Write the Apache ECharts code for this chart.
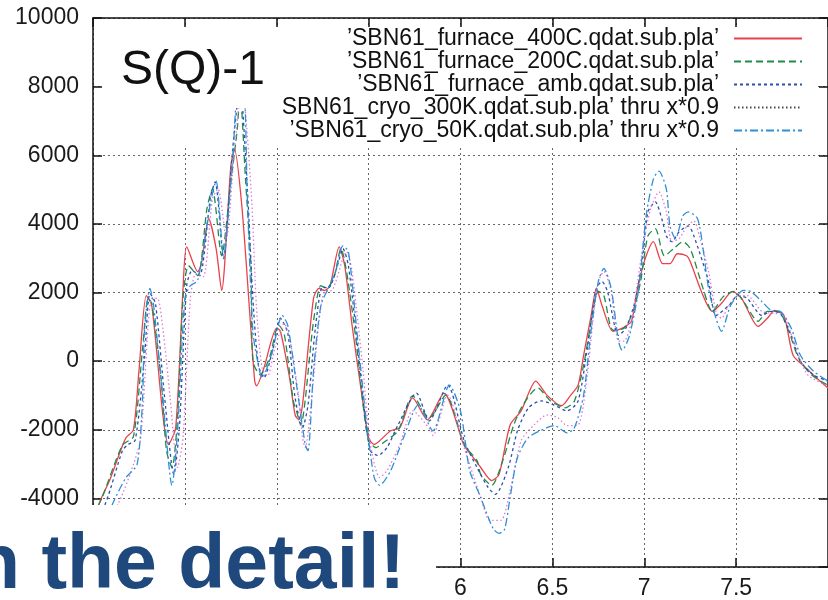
<!DOCTYPE html>
<html>
<head>
<meta charset="utf-8">
<script src="https://cdn.jsdelivr.net/npm/echarts@6/dist/echarts.min.js"></script>
<style>
  html, body { margin: 0; padding: 0; background: #ffffff; }
  #chart { width: 828px; height: 600px; }
</style>
</head>
<body>
<div id="chart"></div>
<script>
// ---- data ----
const seriesNames = [
  "’SBN61_furnace_400C.qdat.sub.pla’",
  "’SBN61_furnace_200C.qdat.sub.pla’",
  "’SBN61_furnace_amb.qdat.sub.pla’",
  "’SBN61_cryo_300K.qdat.sub.pla’ thru x*0.9",
  "’SBN61_cryo_50K.qdat.sub.pla’ thru x*0.9"
];
const yTicks = [-6000, -4000, -2000, 0, 2000, 4000, 6000, 8000, 10000];
const xTicks = [4, 4.5, 5, 5.5, 6, 6.5, 7, 7.5, 8];
const plotLabel = "S(Q)-1";
const slideText = "n the detail!";

const s400C = [[4.00,-4700],[4.04,-4060],[4.09,-3480],[4.15,-2610],[4.18,-2230],[4.22,-2000],[4.25,-300],[4.29,1910],[4.32,1620],[4.38,-1560],[4.41,-2430],[4.45,-1940],[4.49,2120],[4.51,3330],[4.57,2610],[4.59,2840],[4.63,4150],[4.67,3280],[4.70,2060],[4.75,5680],[4.77,6170],[4.81,4520],[4.86,870],[4.88,-580],[4.89,-720],[4.93,-200],[5.00,960],[5.02,870],[5.07,-490],[5.10,-1570],[5.12,-1710],[5.14,-1280],[5.20,1830],[5.23,2120],[5.26,2060],[5.29,2200],[5.34,3330],[5.37,2780],[5.41,1040],[5.46,-870],[5.50,-2230],[5.53,-2430],[5.56,-2320],[5.62,-2030],[5.67,-1940],[5.74,-1070],[5.82,-1710],[5.91,-930],[6.02,-2460],[6.07,-2810],[6.11,-3100],[6.17,-3480],[6.21,-3300],[6.27,-1860],[6.33,-1450],[6.41,-580],[6.47,-990],[6.55,-1300],[6.60,-990],[6.64,-700],[6.67,170],[6.71,1300],[6.74,2120],[6.77,1620],[6.83,870],[6.88,960],[6.93,1160],[6.96,2030],[7.00,2900],[7.05,3480],[7.10,2840],[7.14,2840],[7.18,3130],[7.23,3070],[7.25,2900],[7.32,1910],[7.37,1450],[7.42,1680],[7.48,2030],[7.53,1830],[7.62,1010],[7.67,1250],[7.71,1480],[7.76,1330],[7.81,170],[7.87,-150],[7.95,-550],[8.00,-780]];
const s200C = [[4.00,-4500],[4.05,-3970],[4.16,-2450],[4.22,-2200],[4.27,380],[4.30,1830],[4.32,1680],[4.37,-490],[4.40,-2610],[4.43,-3100],[4.46,-1650],[4.49,1830],[4.52,2780],[4.57,2490],[4.62,4440],[4.65,5020],[4.70,3070],[4.75,5220],[4.785,6750],[4.80,7800],[4.83,5300],[4.86,2700],[4.87,0],[4.91,-400],[4.96,90],[5.01,1040],[5.04,810],[5.09,-1160],[5.11,-1500],[5.13,-1860],[5.20,1160],[5.24,2200],[5.27,2120],[5.31,2410],[5.35,3280],[5.38,2610],[5.43,670],[5.47,-1280],[5.50,-2320],[5.54,-2520],[5.58,-2380],[5.66,-2030],[5.74,-1010],[5.83,-1650],[5.92,-990],[6.02,-2430],[6.09,-2900],[6.11,-3300],[6.17,-3620],[6.23,-2900],[6.29,-1860],[6.34,-1280],[6.42,-780],[6.49,-1160],[6.57,-1360],[6.62,-1160],[6.67,-120],[6.73,1740],[6.75,2030],[6.78,1910],[6.83,900],[6.89,960],[6.94,1450],[6.98,2320],[7.02,3650],[7.06,3860],[7.11,3070],[7.16,3280],[7.21,3480],[7.25,3280],[7.32,2120],[7.37,1450],[7.43,1880],[7.49,2030],[7.54,1740],[7.62,1160],[7.67,1450],[7.73,1450],[7.78,960],[7.84,90],[7.91,-400],[8.00,-700]];
const sAmb = [[4.00,-4800],[4.07,-4120],[4.16,-2610],[4.19,-2430],[4.23,-2300],[4.28,90],[4.31,1970],[4.34,1680],[4.39,-1070],[4.44,-3300],[4.47,-1940],[4.51,2200],[4.54,2640],[4.58,2490],[4.64,4810],[4.665,5220],[4.71,2990],[4.76,6170],[4.80,8000],[4.84,5020],[4.87,1830],[4.90,-120],[4.93,-490],[4.98,380],[5.02,1250],[5.06,810],[5.10,-1070],[5.14,-1940],[5.17,-1280],[5.21,960],[5.25,2170],[5.28,2120],[5.33,2780],[5.36,3280],[5.39,2780],[5.44,460],[5.48,-1570],[5.51,-2610],[5.55,-2750],[5.60,-2520],[5.66,-1860],[5.76,-930],[5.83,-1740],[5.93,-700],[6.02,-2320],[6.09,-3100],[6.15,-3680],[6.19,-3880],[6.26,-3100],[6.31,-2030],[6.37,-1360],[6.44,-1160],[6.51,-1280],[6.58,-1450],[6.64,-1160],[6.69,380],[6.74,2120],[6.77,2320],[6.80,2030],[6.86,750],[6.90,960],[6.95,1740],[6.99,2990],[7.02,4350],[7.06,4640],[7.10,4060],[7.12,3650],[7.15,3480],[7.19,3770],[7.24,3940],[7.27,3650],[7.35,2320],[7.39,1330],[7.46,1620],[7.51,1910],[7.56,1830],[7.64,1330],[7.69,1450],[7.74,1390],[7.80,750],[7.85,0],[7.92,-400],[8.00,-580]];
const s300K = [[4.00,-5300],[4.14,-4120],[4.22,-3010],[4.26,-2230],[4.32,1830],[4.35,1830],[4.38,960],[4.42,-1070],[4.46,-3100],[4.49,-2230],[4.53,1830],[4.56,2550],[4.60,2460],[4.65,4730],[4.68,5020],[4.725,3570],[4.77,6170],[4.81,8000],[4.86,5020],[4.89,1540],[4.92,-200],[4.95,-430],[4.99,380],[5.04,1100],[5.07,670],[5.12,-1070],[5.14,-2230],[5.155,-2520],[5.19,-1070],[5.23,1160],[5.26,2030],[5.30,2060],[5.36,2990],[5.38,3190],[5.41,2610],[5.47,-290],[5.51,-2430],[5.56,-3390],[5.60,-3190],[5.67,-2430],[5.74,-1450],[5.84,-2030],[5.85,-2170],[5.93,-990],[6.02,-2520],[6.11,-3970],[6.16,-4640],[6.22,-4640],[6.27,-3770],[6.33,-2320],[6.40,-1860],[6.47,-1570],[6.53,-1650],[6.58,-1880],[6.64,-1860],[6.69,-400],[6.72,1160],[6.75,2320],[6.78,2610],[6.82,2030],[6.86,580],[6.89,580],[6.93,1160],[6.98,2900],[7.03,4350],[7.08,4930],[7.12,4350],[7.15,3480],[7.19,3570],[7.23,3910],[7.27,4090],[7.30,3650],[7.35,2610],[7.39,1450],[7.42,1250],[7.46,1620],[7.51,1910],[7.56,1910],[7.64,1450],[7.71,1390],[7.76,1330],[7.82,460],[7.89,-400],[8.00,-720]];
const s50K = [[4.00,-5500],[4.11,-4120],[4.18,-3390],[4.24,-3010],[4.27,-1070],[4.28,870],[4.31,2120],[4.33,1620],[4.38,-1070],[4.43,-3620],[4.46,-2030],[4.50,1830],[4.53,2200],[4.57,2350],[4.64,4640],[4.67,5250],[4.71,3070],[4.76,5890],[4.79,7900],[4.82,7900],[4.84,4730],[4.87,870],[4.90,-120],[4.92,-490],[4.97,170],[5.03,1330],[5.06,1040],[5.11,-780],[5.155,-2430],[5.17,-2610],[5.20,-290],[5.24,1620],[5.28,2120],[5.32,2610],[5.36,3360],[5.39,3190],[5.44,670],[5.49,-1860],[5.53,-3390],[5.56,-3620],[5.62,-3190],[5.69,-2230],[5.77,-1280],[5.85,-2030],[5.94,-700],[6.00,-1450],[6.05,-3190],[6.11,-3970],[6.14,-4400],[6.18,-4900],[6.21,-5020],[6.24,-4900],[6.27,-3970],[6.31,-2810],[6.37,-2230],[6.47,-1940],[6.51,-1880],[6.58,-2090],[6.62,-1940],[6.67,-990],[6.71,870],[6.75,2320],[6.78,2700],[6.82,2120],[6.86,580],[6.88,320],[6.92,750],[6.97,2120],[7.01,4230],[7.05,5310],[7.08,5540],[7.12,5020],[7.14,3940],[7.17,3570],[7.21,4230],[7.24,4350],[7.29,4150],[7.32,3280],[7.35,2120],[7.39,1250],[7.42,870],[7.47,1620],[7.54,2060],[7.58,2030],[7.64,1740],[7.69,1480],[7.74,1450],[7.80,960],[7.85,170],[7.92,-290],[8.00,-580]];

const seriesData = [s400C, s200C, sAmb, s300K, s50K];
const seriesColors = ['#e8424a', '#1f8c4c', '#2b4fae', '#e07ad2', '#2e8fd6'];
const seriesDash = ['solid', [7, 4], [3, 3], [1.5, 2.5], [8, 3, 2, 3]];

// ---- chart ----
const chart = echarts.init(document.getElementById('chart'), null, { renderer: 'canvas' });
const FONT = 'Liberation Sans';
const axisCommon = {
  type: 'value',
  axisLine: { show: true, onZero: false, lineStyle: { color: '#111', width: 1.5 } },
  axisTick: { show: true, inside: true, length: 9, lineStyle: { color: '#111', width: 1.5 } }
};

const option = {
  backgroundColor: '#ffffff',
  animation: false,
  title: {
    text: plotLabel, left: 121, top: 47, padding: 0, z: 10,
    textStyle: { fontFamily: FONT, fontSize: 48, fontWeight: 'normal', color: '#111' }
  },
  legend: {
    orient: 'vertical', align: 'right', right: 25, top: 27, padding: 0, itemGap: 0,
    itemWidth: 68, itemHeight: 14, z: 4,
    textStyle: { fontFamily: FONT, fontSize: 23, color: '#111', padding: [0, 10, 0, 0] },
    itemStyle: { opacity: 0 },
    data: seriesNames.map((n, i) => i === 3 ? { name: n, lineStyle: { color: '#444' } } : { name: n })
  },
  grid: { left: 93, top: 18, width: 736, height: 552, containLabel: false },
  xAxis: [
    Object.assign({}, axisCommon, {
      position: 'bottom', min: xTicks[0], max: xTicks[xTicks.length - 1], interval: 0.5,
      axisLabel: { fontFamily: FONT, fontSize: 23, color: '#1a1a1a', margin: 10, showMaxLabel: false,
        formatter: v => String(v) },
      splitLine: { show: true, lineStyle: { color: '#666', type: [2, 3], width: 1 } }
    }),
    Object.assign({}, axisCommon, {
      position: 'top', min: xTicks[0], max: xTicks[xTicks.length - 1], interval: 0.5,
      axisLabel: { show: false }, splitLine: { show: false }
    })
  ],
  yAxis: [
    Object.assign({}, axisCommon, {
      position: 'left', min: yTicks[0], max: yTicks[yTicks.length - 1], interval: 2000,
      axisLabel: { fontFamily: FONT, fontSize: 23, color: '#1a1a1a', margin: 14,
        formatter: v => String(v) },
      splitLine: { show: true, lineStyle: { color: '#666', type: [2, 3], width: 1 } }
    }),
    Object.assign({}, axisCommon, {
      position: 'right', min: yTicks[0], max: yTicks[yTicks.length - 1], interval: 2000,
      axisLabel: { show: false }, splitLine: { show: false }
    })
  ],
  series: seriesNames.map((n, i) => ({
    name: n, type: 'line', data: seriesData[i], showSymbol: false, symbol: 'none',
    smooth: 0.25, z: 2,
    lineStyle: { color: seriesColors[i], width: 1.3, type: seriesDash[i] },
    itemStyle: { color: seriesColors[i] }
  })),
  graphic: {
    elements: [
      { type: 'rect', z: 1, silent: true, shape: { x: 102, y: 28, width: 715, height: 117 }, style: { fill: '#ffffff' } },
      { type: 'rect', z: 5, silent: true, shape: { x: 102, y: 28, width: 181, height: 80 }, style: { fill: '#ffffff' } },
      { type: 'rect', z: 20, silent: true, shape: { x: 0, y: 505, width: 436, height: 95 }, style: { fill: '#ffffff' } },
      { type: 'text', z: 21, silent: true, x: -27, y: 567,
        style: { text: slideText, font: 'bold 77px "Liberation Sans"', fill: '#1f497d', align: 'left', verticalAlign: 'middle' } }
    ]
  }
};
chart.setOption(option);
</script>
</body>
</html>
